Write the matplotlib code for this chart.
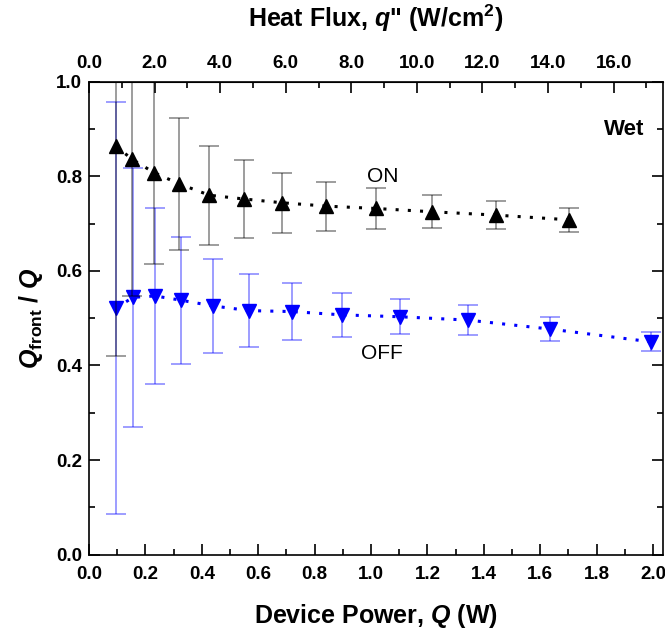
import matplotlib
matplotlib.use("Agg")
import matplotlib.pyplot as plt
from matplotlib.ticker import MultipleLocator, FormatStrFormatter

plt.rcParams['font.family'] = ['Liberation Sans', 'DejaVu Sans']
plt.rcParams['mathtext.fontset'] = 'custom'
plt.rcParams['mathtext.rm'] = 'Liberation Sans:bold'
plt.rcParams['mathtext.it'] = 'Liberation Sans:bold:italic'
plt.rcParams['mathtext.bf'] = 'Liberation Sans:bold'

# ON data
q_on = [0.095, 0.153, 0.230, 0.320, 0.427, 0.550, 0.686, 0.840, 1.016, 1.217, 1.442, 1.703]
v_on = [0.864, 0.836, 0.808, 0.784, 0.760, 0.752, 0.744, 0.737, 0.732, 0.725, 0.718, 0.708]
e_on = [0.445, 0.290, 0.194, 0.140, 0.105, 0.083, 0.064, 0.052, 0.044, 0.035, 0.030, 0.025]

# OFF data
q_off = [0.095, 0.156, 0.234, 0.326, 0.439, 0.568, 0.719, 0.898, 1.103, 1.343, 1.635, 1.993]
v_off = [0.521, 0.544, 0.547, 0.538, 0.526, 0.516, 0.514, 0.507, 0.503, 0.496, 0.477, 0.450]
e_off = [0.436, 0.274, 0.187, 0.134, 0.099, 0.077, 0.060, 0.047, 0.037, 0.032, 0.025, 0.020]

flux_per_watt = 8.6  # W/cm^2 per W

fig = plt.figure(figsize=(6.65, 6.31), dpi=100)
ax = fig.add_axes([0.1338, 0.121, 0.863, 0.7495])

ax.errorbar(q_off, v_off, yerr=e_off, fmt='v', color='blue', ms=10,
            ecolor=(0, 0, 1, 0.45), elinewidth=1.2, capsize=7, capthick=1.2,
            linestyle=(0, (1, 3)), lw=2.2, zorder=3)
ax.errorbar(q_on, v_on, yerr=e_on, fmt='^', color='black', ms=10,
            ecolor=(0, 0, 0, 0.45), elinewidth=1.2, capsize=7, capthick=1.2,
            linestyle=(0, (1, 3)), lw=2.2, zorder=4)

ax.set_xlim(0, 2.035)
ax.set_ylim(0, 1.0)

ax.xaxis.set_major_locator(MultipleLocator(0.2))
ax.xaxis.set_minor_locator(MultipleLocator(0.1))
ax.yaxis.set_major_locator(MultipleLocator(0.2))
ax.yaxis.set_minor_locator(MultipleLocator(0.1))
ax.xaxis.set_major_formatter(FormatStrFormatter('%.1f'))
ax.yaxis.set_major_formatter(FormatStrFormatter('%.1f'))
ax.tick_params(which='both', direction='in', top=False, right=True, width=1.2)
ax.tick_params(which='major', length=8, labelsize=13.5)
ax.tick_params(axis='x', which='major', pad=8)
ax.tick_params(axis='y', which='major', pad=5)
ax.tick_params(which='minor', length=4)
for lab in ax.get_xticklabels() + ax.get_yticklabels():
    lab.set_fontweight('bold')
for s in ax.spines.values():
    s.set_linewidth(1.2)

sec = ax.secondary_xaxis('top', functions=(lambda x: x * flux_per_watt,
                                            lambda x: x / flux_per_watt))
sec.xaxis.set_major_locator(MultipleLocator(2.0))
sec.xaxis.set_minor_locator(MultipleLocator(1.0))
sec.xaxis.set_major_formatter(FormatStrFormatter('%.1f'))
sec.tick_params(which='both', direction='in', width=1.2)
sec.tick_params(which='major', length=8, labelsize=13.5, pad=7)
sec.tick_params(which='minor', length=4)
for lab in sec.get_xticklabels():
    lab.set_fontweight('bold')

ax.set_xlabel(r'Device Power, $Q$ (W)', fontsize=18, fontweight='bold', labelpad=14)
sec.set_xlabel(r'Heat Flux, $q$" (W/cm$^2$)', fontsize=18, fontweight='bold', labelpad=20)
ax.set_ylabel(r'$Q_{\mathrm{front}}$ / $Q$', fontsize=18, fontweight='bold', labelpad=8)

ax.text(1.97, 0.898, 'Wet', fontsize=16, fontweight='bold', ha='right', va='center')
ax.text(1.04, 0.80, 'ON', fontsize=15, ha='center', va='center')
ax.text(1.04, 0.425, 'OFF', fontsize=15, ha='center', va='center')

fig.savefig('out.png', dpi=100)
